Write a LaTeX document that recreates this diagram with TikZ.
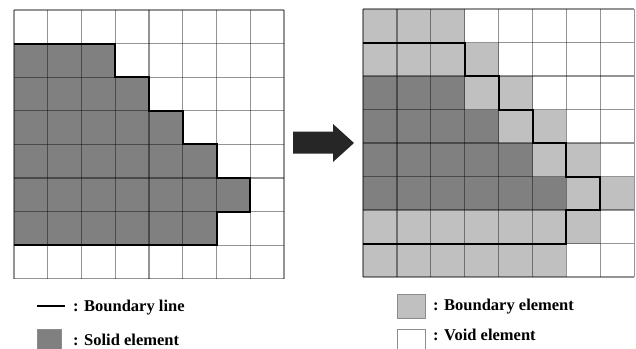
\documentclass[tikz,border=0pt]{standalone}
\usepackage{fontspec}
\setmainfont{Liberation Serif}
\definecolor{solidc}{HTML}{808080}
\definecolor{bndc}{HTML}{C0C0C0}
\definecolor{gridc}{HTML}{8C8C8C}
\definecolor{arrowc}{HTML}{262626}
\tikzset{
  solidcell/.style={fill=solidc},
  bndcell/.style={fill=bndc},
  gridline/.style={draw=black, draw opacity=0.42, line width=1.2pt},
  bline/.style={draw=black, line width=2pt, line join=miter},
  legtext/.style={anchor=base west, inner sep=0pt, font=\fontsize{16.5}{18}\selectfont\bfseries},
  legbox/.style={draw=gridc, line width=1pt}
}
\newcommand{\mygrid}{%
  \foreach \i in {0,...,8}{
    \draw[gridline] (\i,0) -- (\i,8);
  }%
  \foreach \i in {0,...,8}{
    \draw[gridline] (0,\i) -- (8,\i);
  }%
}
\begin{document}
\begin{tikzpicture}[x=1pt,y=-1pt]
\useasboundingbox (0,0) rectangle (636,348);
% ---------- left grid ----------
\begin{scope}[shift={(14,10)}, x=33.75pt, y=-33.6pt]
  \foreach \r/\n in {1/3,2/4,3/5,4/6,5/7,6/6}{
    \fill[solidcell] (0,\r) rectangle (\n,\r+1);
  }
  \mygrid
  \draw[bline] (0,1) -- (3,1) -- (3,2) -- (4,2) -- (4,3) -- (5,3) -- (5,4) -- (6,4) -- (6,5) -- (7,5) -- (7,6) -- (6,6) -- (6,7) -- (0,7);
\end{scope}
% ---------- arrow ----------
\fill[arrowc] (293,131.5) -- (333,131.5) -- (333,124) -- (354,143) -- (333,162) -- (333,153.5) -- (293,153.5) -- cycle;
% ---------- right grid ----------
\begin{scope}[shift={(363,9)}, x=33.9pt, y=-33.5pt]
  \foreach \r/\n in {2/3,3/4,4/5,5/6}{
    \fill[solidcell] (0,\r) rectangle (\n,\r+1);
  }
  \foreach \r/\a/\b in {0/0/3,1/0/4,2/3/5,3/4/6,4/5/7,5/6/8,6/0/7,7/0/6}{
    \fill[bndcell] (\a,\r) rectangle (\b,\r+1);
  }
  \mygrid
  \draw[bline] (0,1) -- (3,1) -- (3,2) -- (4,2) -- (4,3) -- (5,3) -- (5,4) -- (6,4) -- (6,5) -- (7,5) -- (7,6) -- (6,6) -- (6,7) -- (0,7);
\end{scope}
% ---------- legend ----------
\draw[black, line width=2pt] (37,305.5) -- (65,305.5);
\node[legtext] (t1) at (73,311.5) {: Boundary line};
\draw[legbox, fill=solidc] (37,329) rectangle (61.5,352);
\node[legtext] (t2) at (73,345) {: Solid element};
\draw[legbox, fill=bndc] (397.5,294.5) rectangle (425,318.5);
\node[legtext] (t3) at (433,310) {: Boundary element};
\draw[legbox, fill=white] (397.5,329.5) rectangle (425,352);
\node[legtext] (t4) at (433,340) {: Void element};
\end{tikzpicture}
\end{document}
